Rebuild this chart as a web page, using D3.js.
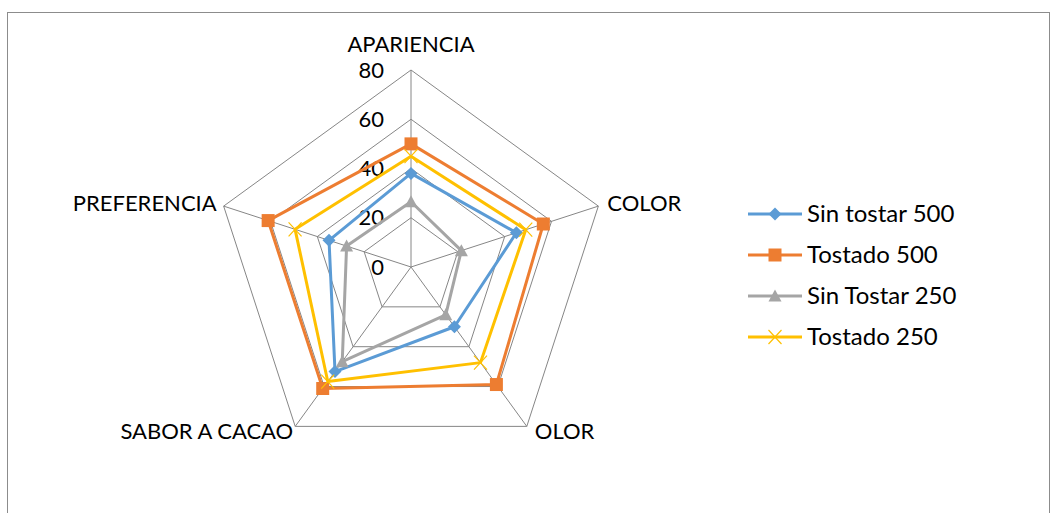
<!DOCTYPE html>
<meta charset="utf-8">
<style>
body { margin: 0; background: #fff; }
text { font-family: Lato, "Open Sans", sans-serif; fill: #000; }
.grid line, .grid polygon { stroke: #868686; stroke-width: 1; fill: none; }
</style>
<svg width="1053" height="513"></svg>
<script src="https://cdnjs.cloudflare.com/ajax/libs/d3/7.8.5/d3.min.js"></script>
<script>

var axes = ["APARIENCIA", "COLOR", "OLOR", "SABOR A CACAO", "PREFERENCIA"];
var ticks = [0, 20, 40, 60, 80];

var seriesNames = ["Sin tostar 500", "Tostado 500", "Sin Tostar 250", "Tostado 250"];
var sinTostar500 = [38, 45, 30, 52.5, 35];
var tostado500 = [50, 56.5, 59, 61, 61];
var sinTostar250 = [26.5, 21.5, 24, 47.5, 27.5];
var tostado250 = [45, 49, 48, 57.5, 49.5];

var colors = ["#5B9BD5", "#ED7D31", "#A5A5A5", "#FFC000"];

var series = [sinTostar500, tostado500, sinTostar250, tostado250].map(function(v, i) {
  return { name: seriesNames[i], values: v, color: colors[i], i: i };
});

var svg = d3.select("svg");

// chart frame
svg.append("rect")
    .attr("x", 7.5).attr("y", 12.5)
    .attr("width", 1042).attr("height", 520)
    .attr("fill", "none").attr("stroke", "#8c8c8c");

var cx = 411, cy = 267;
var r = d3.scaleLinear().domain([0, 80]).range([0, 197]);
var angle = d3.scalePoint().domain(axes).range([0, 2 * Math.PI * 4 / 5]);

function pt(axis, v) {
  var a = angle(axis) - Math.PI / 2;
  return [cx + r(v) * Math.cos(a), cy + r(v) * Math.sin(a)];
}

var grid = svg.append("g").attr("class", "grid");

grid.selectAll("polygon")
  .data(ticks.slice(1))
  .enter().append("polygon")
    .attr("points", function(t) { return axes.map(function(a) { return pt(a, t).join(","); }).join(" "); });

grid.selectAll("line")
  .data(axes)
  .enter().append("line")
    .attr("x1", cx).attr("y1", cy)
    .attr("x2", function(a) { return pt(a, 80)[0]; })
    .attr("y2", function(a) { return pt(a, 80)[1]; });

// tick labels
svg.append("g").selectAll("text")
  .data(ticks)
  .enter().append("text")
    .attr("x", cx - 27)
    .attr("y", function(t) { return cy - r(t); })
    .attr("dy", "0.35em")
    .attr("text-anchor", "end")
    .style("font-size", "22px")
    .text(function(t) { return t; });

// axis labels
var labelPos = {
  "APARIENCIA": { dx: 0, dy: -26, anchor: "middle" },
  "COLOR": { dx: 9, dy: -3, anchor: "start" },
  "OLOR": { dx: 8, dy: 5, anchor: "start" },
  "SABOR A CACAO": { dx: -2, dy: 5, anchor: "end" },
  "PREFERENCIA": { dx: -7, dy: -3, anchor: "end" }
};

svg.append("g").selectAll("text")
  .data(axes)
  .enter().append("text")
    .attr("x", function(a) { return pt(a, 80)[0] + labelPos[a].dx; })
    .attr("y", function(a) { return pt(a, 80)[1] + labelPos[a].dy; })
    .attr("dy", "0.35em")
    .attr("text-anchor", function(a) { return labelPos[a].anchor; })
    .style("font-size", "22px")
    .text(function(a) { return a; });

var line = d3.line().curve(d3.curveLinearClosed);

function drawMarker(sel, s) {
  if (s.i === 3) {
    sel.append("path")
      .attr("d", "M-6.5,-7L6.5,7M-6.5,7L6.5,-7")
      .attr("stroke", s.color).attr("stroke-width", 1.2).attr("fill", "none");
  } else if (s.i === 0) {
    sel.append("path").attr("d", "M0,-6.5L6.5,0L0,6.5L-6.5,0Z").attr("fill", s.color);
  } else if (s.i === 1) {
    sel.append("path").attr("d", "M-6.5,-6.5H6.5V6.5H-6.5Z").attr("fill", s.color);
  } else {
    sel.append("path").attr("d", "M0,-6.5L6.5,5.5H-6.5Z").attr("fill", s.color);
  }
}

var sg = svg.append("g").selectAll("g")
  .data(series)
  .enter().append("g");

sg.append("path")
    .attr("d", function(s) { return line(axes.map(function(a, k) { return pt(a, s.values[k]); })); })
    .attr("fill", "none")
    .attr("stroke", function(s) { return s.color; })
    .attr("stroke-width", 3)
    .attr("stroke-linejoin", "round");

sg.each(function(s) {
  var g = d3.select(this);
  axes.forEach(function(a, k) {
    var p = pt(a, s.values[k]);
    var m = g.append("g").attr("transform", "translate(" + p[0] + "," + p[1] + ")");
    drawMarker(m, s);
  });
});

// legend
var lg = svg.append("g").selectAll("g")
  .data(series)
  .enter().append("g")
    .attr("transform", function(s, i) { return "translate(748," + (214 + i * 41) + ")"; });

lg.append("line")
    .attr("x1", 0).attr("x2", 54)
    .attr("stroke", function(s) { return s.color; })
    .attr("stroke-width", 3);

lg.each(function(s) {
  var m = d3.select(this).append("g").attr("transform", "translate(27,0)");
  drawMarker(m, s);
});

lg.append("text")
    .attr("x", 59)
    .attr("dy", "0.35em")
    .style("font-size", "24px")
    .text(function(s) { return s.name; });

</script>
